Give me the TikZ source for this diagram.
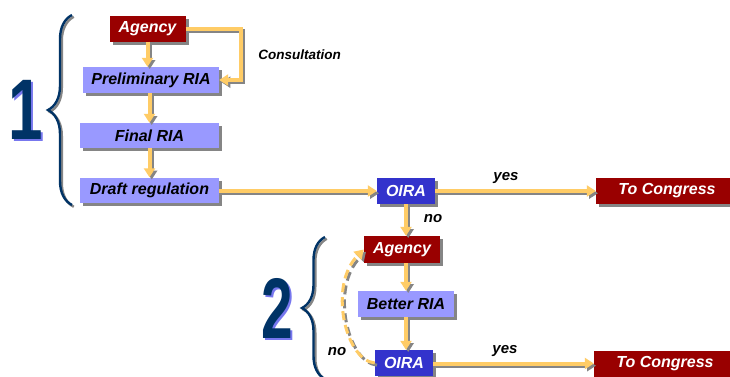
\documentclass[tikz,border=0pt]{standalone}
\usepackage{fontspec}
\usepackage{graphicx}
\setmainfont{Liberation Sans}
\usetikzlibrary{arrows.meta,decorations.pathreplacing,shadows}
\definecolor{agred}{HTML}{990000}
\definecolor{ria}{HTML}{9999FF}
\definecolor{oirab}{HTML}{3333CC}
\definecolor{arr}{HTML}{FFCC66}
\definecolor{shad}{HTML}{858585}
\definecolor{navy}{HTML}{003366}
\definecolor{numshad}{HTML}{7777EE}
\newcommand\myarrow[2][]{%
  \draw[arrline,shad,#1,transform canvas={shift={(2.2pt,-2.2pt)}}] #2;
  \draw[arrline,arr,#1] #2;}
\newcommand\shadnum[2]{\makebox[0pt][l]{\hspace{2.2pt}\raisebox{-2.2pt}{\color{numshad}\scalebox{#1}[1]{#2}}}\scalebox{#1}[1]{#2}}
\begin{document}
\begin{tikzpicture}[x=1pt,y=-1pt,
  boxbase/.style={inner sep=0pt, minimum height=26pt,
    font=\fontsize{16}{16}\selectfont\bfseries\itshape,
    drop shadow={shadow xshift=3pt,shadow yshift=-3pt,fill=shad,opacity=1}},
  redbox/.style={boxbase, fill=agred, text=white},
  riabox/.style={boxbase, fill=ria, text=black},
  oirabox/.style={boxbase, fill=oirab, text=white},
  lbl/.style={font=\fontsize{15}{15}\selectfont\bfseries\itshape, inner sep=0pt},
  arrline/.style={line width=4pt, -{Triangle[width=11pt,length=9pt]}},
  bracestyle/.style={decorate, decoration={brace, amplitude=24pt}, line width=2.4pt},
  bignum/.style={inner sep=0pt, anchor=base, text=navy, font=\fontsize{86}{86}\selectfont\bfseries}
]
\clip (0,0) rectangle (730,376);
\fill[white] (0,0) rectangle (730,376);

% big numbers
\node[bignum] (n1) at (26,139) {\shadnum{0.72}{1}};
\node[bignum] (n2) at (277,338) {\shadnum{0.66}{2}};

% braces
\draw[bracestyle, shad, transform canvas={shift={(1.8pt,-1.8pt)}}] (72,205) -- (72,15);
\draw[bracestyle, navy] (72,205) -- (72,15);
\draw[bracestyle, decoration={amplitude=23pt}, shad, transform canvas={shift={(1.8pt,-1.8pt)}}] (325,379) -- (325,237);
\draw[bracestyle, decoration={amplitude=23pt}, navy] (325,379) -- (325,237);

% boxes
\node[redbox, minimum width=76pt] (ag1) at (147.5,28.5) {Agency};
\node[riabox, minimum width=136pt] (pre) at (151,80) {Preliminary RIA};
\node[riabox, minimum width=139pt, minimum height=25pt] (fin) at (149.5,135.5) {Final RIA};
\node[riabox, minimum width=139pt, minimum height=25pt] (dra) at (149.5,190) {Draft regulation};
\node[oirabox, minimum width=58pt] (oira1) at (406,191) {OIRA};
\node[redbox, minimum width=142pt] (tc1) at (667,191) {To Congress};
\node[redbox, minimum width=76pt, minimum height=27pt] (ag2) at (402,249.5) {Agency};
\node[riabox, minimum width=96pt] (bet) at (406,304) {Better RIA};
\node[oirabox, minimum width=58pt] (oira2) at (404,363) {OIRA};
\node[redbox, minimum width=142pt] (tc2) at (665,363.5) {To Congress};

% arrows
\coordinate (c1) at (241,28.5);
\myarrow{(ag1.south) -- (ag1.south |- pre.north)}
\myarrow{(ag1.east) -- (c1) |- (pre.east)}
\myarrow{(pre.south -| fin.north) -- (fin.north)}
\myarrow{(fin.south) -- (dra.north)}
\myarrow{(dra.east |- oira1.west) -- (oira1.west)}
\myarrow{(oira1.east) -- (tc1.west)}
\myarrow{(oira1.south) -- (ag2.north -| oira1.south)}
\myarrow{(ag2.south -| bet.north) -- (bet.north)}
\myarrow{(bet.south) -- (bet.south |- oira2.north)}
\myarrow{(oira2.east |- tc2.west) -- (tc2.west)}
\myarrow[dash pattern=on 9pt off 5pt, line width=3pt]{(oira2.west) .. controls (345,360) and (328,285) .. (ag2.west)}

% labels
\node[font=\fontsize{13.5}{13.5}\selectfont\bfseries\itshape, inner sep=0pt] (lc) at (299.5,55) {Consultation};
\node[lbl] (ly1) at (506,178) {yes};
\node[lbl] (ln1) at (433,219) {no};
\node[lbl] (ly2) at (505,351) {yes};
\node[lbl] (ln2) at (337,352) {no};
\end{tikzpicture}
\end{document}
